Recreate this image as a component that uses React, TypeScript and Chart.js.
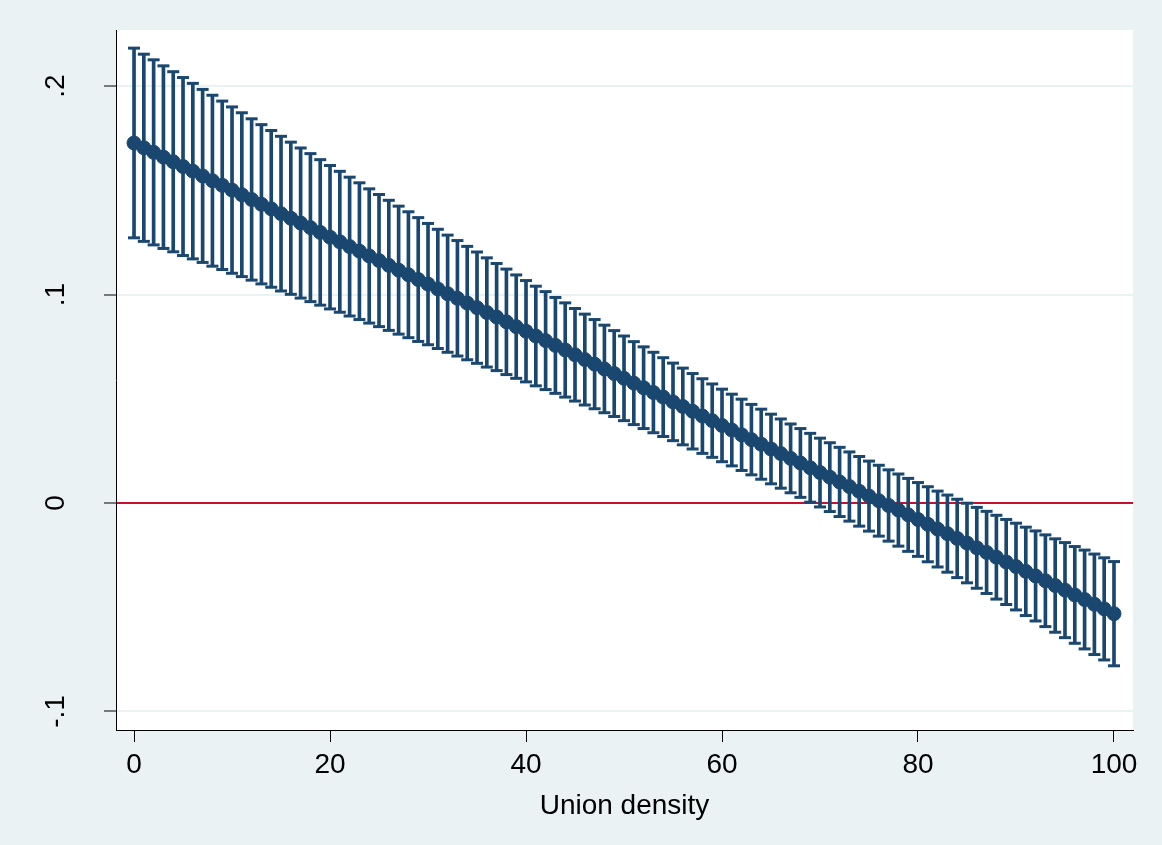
import { useEffect, useRef } from "react";
import { Chart, registerables } from "chart.js";

Chart.register(...registerables);

// Union density values at which the marginal effect is evaluated
const UNION_DENSITY = [
  0, 1, 2, 3, 4, 5, 6, 7, 8, 9,
  10, 11, 12, 13, 14, 15, 16, 17, 18, 19,
  20, 21, 22, 23, 24, 25, 26, 27, 28, 29,
  30, 31, 32, 33, 34, 35, 36, 37, 38, 39,
  40, 41, 42, 43, 44, 45, 46, 47, 48, 49,
  50, 51, 52, 53, 54, 55, 56, 57, 58, 59,
  60, 61, 62, 63, 64, 65, 66, 67, 68, 69,
  70, 71, 72, 73, 74, 75, 76, 77, 78, 79,
  80, 81, 82, 83, 84, 85, 86, 87, 88, 89,
  90, 91, 92, 93, 94, 95, 96, 97, 98, 99,
  100,
];

// Point estimates of the marginal effect
const EFFECT = [
  0.1727, 0.1704, 0.1682, 0.1659, 0.1637, 0.1614, 0.1592, 0.1569, 0.1546, 0.1524,
  0.1501, 0.1479, 0.1456, 0.1433, 0.1411, 0.1388, 0.1366, 0.1343, 0.1321, 0.1298,
  0.1275, 0.1253, 0.123, 0.1208, 0.1185, 0.1163, 0.114, 0.1117, 0.1095, 0.1072,
  0.105, 0.1027, 0.1004, 0.0982, 0.0959, 0.0937, 0.0914, 0.0892, 0.0869, 0.0846,
  0.0824, 0.0801, 0.0779, 0.0756, 0.0734, 0.0711, 0.0688, 0.0666, 0.0643, 0.0621,
  0.0598, 0.0575, 0.0553, 0.053, 0.0508, 0.0485, 0.0463, 0.044, 0.0417, 0.0395,
  0.0372, 0.035, 0.0327, 0.0304, 0.0282, 0.0259, 0.0237, 0.0214, 0.0192, 0.0169,
  0.0146, 0.0124, 0.0101, 0.0079, 0.0056, 0.0033, 0.0011, -0.0012, -0.0034, -0.0057,
  -0.0079, -0.0102, -0.0125, -0.0147, -0.017, -0.0192, -0.0215, -0.0237, -0.026, -0.0283,
  -0.0305, -0.0328, -0.035, -0.0373, -0.0396, -0.0418, -0.0441, -0.0463, -0.0486, -0.0508,
  -0.0531,
];

// Lower bound of the confidence interval
const CI_LOWER = [
  0.1272, 0.1255, 0.1238, 0.1221, 0.1205, 0.1187, 0.1171, 0.1154, 0.1136, 0.112,
  0.1102, 0.1086, 0.1069, 0.1051, 0.1035, 0.1017, 0.1001, 0.0983, 0.0966, 0.0949,
  0.0931, 0.0915, 0.0897, 0.088, 0.0863, 0.0846, 0.0828, 0.081, 0.0793, 0.0775,
  0.0759, 0.0741, 0.0723, 0.0705, 0.0687, 0.067, 0.0652, 0.0635, 0.0616, 0.0598,
  0.0581, 0.0562, 0.0544, 0.0526, 0.0508, 0.0489, 0.047, 0.0452, 0.0433, 0.0415,
  0.0395, 0.0376, 0.0357, 0.0337, 0.0319, 0.0299, 0.0279, 0.0259, 0.0238, 0.0219,
  0.0198, 0.0178, 0.0156, 0.0135, 0.0114, 0.0092, 0.0071, 0.0049, 0.0027, 0.0004,
  -0.0019, -0.0041, -0.0065, -0.0087, -0.0111, -0.0135, -0.0159, -0.0183, -0.0207, -0.0232,
  -0.0256, -0.0282, -0.0307, -0.0332, -0.0358, -0.0383, -0.0409, -0.0434, -0.0461, -0.0487,
  -0.0513, -0.054, -0.0566, -0.0593, -0.062, -0.0646, -0.0673, -0.07, -0.0727, -0.0753,
  -0.0781,
];

// Upper bound of the confidence interval
const CI_UPPER = [
  0.2182, 0.2153, 0.2126, 0.2097, 0.2069, 0.2041, 0.2013, 0.1984, 0.1956, 0.1928,
  0.19, 0.1872, 0.1843, 0.1815, 0.1787, 0.1759, 0.1731, 0.1703, 0.1676, 0.1647,
  0.1619, 0.1591, 0.1563, 0.1536, 0.1507, 0.148, 0.1452, 0.1424, 0.1397, 0.1369,
  0.1341, 0.1313, 0.1285, 0.1259, 0.1231, 0.1204, 0.1176, 0.1149, 0.1122, 0.1094,
  0.1067, 0.104, 0.1014, 0.0986, 0.096, 0.0933, 0.0906, 0.088, 0.0853, 0.0827,
  0.0801, 0.0774, 0.0749, 0.0723, 0.0697, 0.0671, 0.0647, 0.0621, 0.0596, 0.0571,
  0.0546, 0.0522, 0.0498, 0.0473, 0.045, 0.0426, 0.0403, 0.0379, 0.0357, 0.0334,
  0.0311, 0.0289, 0.0267, 0.0245, 0.0223, 0.0201, 0.0181, 0.0159, 0.0139, 0.0118,
  0.0098, 0.0078, 0.0057, 0.0038, 0.0018, -0.0001, -0.0021, -0.004, -0.0059, -0.0079,
  -0.0097, -0.0116, -0.0134, -0.0153, -0.0172, -0.019, -0.0209, -0.0226, -0.0245, -0.0263,
  -0.0281,
];

const X_TICKS = [0, 20, 40, 60, 80, 100];
const Y_TICKS = [-0.1, 0, 0.1, 0.2];
const Y_TICK_LABELS = ["-.1", "0", ".1", ".2"];
const X_TITLE = "Union density";

const NAVY = "#1a476f";
const ZERO_RED = "#c8102e";
const GRID = "#eaf2f3";
const PAGE_BG = "#eaf2f3";
const FONT = "'Liberation Sans', Arial, Helvetica, sans-serif";

// Fills the plot region white on top of the tinted canvas background
const plotRegionFill = {
  id: "plotRegionFill",
  beforeDraw(chart: any) {
    const { ctx, chartArea, width, height } = chart;
    ctx.save();
    ctx.fillStyle = PAGE_BG;
    ctx.fillRect(0, 0, width, height);
    ctx.fillStyle = "#ffffff";
    ctx.fillRect(
      chartArea.left,
      chartArea.top,
      chartArea.right - chartArea.left,
      chartArea.bottom - chartArea.top
    );
    ctx.restore();
  },
};

export default function App() {
  const canvasRef = useRef<HTMLCanvasElement | null>(null);

  useEffect(() => {
    const canvas = canvasRef.current;
    if (!canvas) return;

    const intervals = UNION_DENSITY.map((x, i) => ({ x, y: [CI_LOWER[i], CI_UPPER[i]] }));
    const lowerCaps = UNION_DENSITY.map((x, i) => ({ x, y: CI_LOWER[i] }));
    const upperCaps = UNION_DENSITY.map((x, i) => ({ x, y: CI_UPPER[i] }));
    const estimates = UNION_DENSITY.map((x, i) => ({ x, y: EFFECT[i] }));

    const chart = new Chart(canvas, {
      type: "bar",
      data: {
        datasets: [
          {
            type: "bar",
            data: intervals as any,
            backgroundColor: NAVY,
            borderWidth: 0,
            barThickness: 3,
            grouped: false,
            order: 3,
          } as any,
          {
            type: "scatter",
            data: lowerCaps,
            pointStyle: "line",
            pointRadius: 6,
            borderWidth: 3,
            borderColor: NAVY,
            order: 2,
          } as any,
          {
            type: "scatter",
            data: upperCaps,
            pointStyle: "line",
            pointRadius: 6,
            borderWidth: 3,
            borderColor: NAVY,
            order: 2,
          } as any,
          {
            type: "scatter",
            data: estimates,
            pointStyle: "circle",
            pointRadius: 7,
            borderWidth: 1,
            backgroundColor: NAVY,
            borderColor: NAVY,
            order: 1,
          } as any,
        ],
      },
      options: {
        responsive: false,
        animation: false,
        events: [],
        layout: { padding: { top: 30, right: 29, left: 0, bottom: 0 } },
        plugins: {
          legend: { display: false },
          tooltip: { enabled: false },
        },
        scales: {
          x: {
            type: "linear",
            offset: false,
            min: -1.84,
            max: 101.94,
            afterBuildTicks: (scale: any) => {
              scale.ticks = X_TICKS.map((v) => ({ value: v }));
            },
            afterFit: (scale: any) => {
              scale.height = 115;
              scale.paddingLeft = 0;
              scale.paddingRight = 0;
            },
            grid: {
              offset: false,
              drawOnChartArea: false,
              drawTicks: true,
              tickLength: 12,
              tickWidth: 1,
              tickColor: "#000",
            },
            border: { display: true, color: "#000", width: 1 },
            ticks: {
              color: "#000",
              font: { family: FONT, size: 28 },
              padding: 6,
              maxRotation: 0,
              minRotation: 0,
              callback: (v: any) => String(v),
            },
            title: {
              display: true,
              text: X_TITLE,
              color: "#000",
              font: { family: FONT, size: 28 },
              padding: { top: 0, bottom: 22 },
            },
          },
          y: {
            type: "linear",
            min: -0.1089,
            max: 0.2269,
            afterBuildTicks: (scale: any) => {
              scale.ticks = Y_TICKS.map((v) => ({ value: v }));
            },
            afterFit: (scale: any) => {
              scale.width = 116;
              scale.paddingTop = 0;
              scale.paddingBottom = 0;
            },
            grid: {
              drawOnChartArea: true,
              drawTicks: true,
              tickLength: 12,
              tickWidth: 1,
              tickColor: "#000",
              lineWidth: 2,
              color: (ctx: any) => (ctx.tick && ctx.tick.value === 0 ? ZERO_RED : GRID),
            },
            border: { display: true, color: "#000", width: 1 },
            ticks: {
              color: "#000",
              font: { family: FONT, size: 28 },
              padding: 31,
              minRotation: 90,
              maxRotation: 90,
              crossAlign: "center",
              callback: (v: any) => {
                const i = Y_TICKS.indexOf(v);
                return i >= 0 ? Y_TICK_LABELS[i] : "";
              },
            },
          },
        },
      },
      plugins: [plotRegionFill],
    });

    return () => chart.destroy();
  }, []);

  return (
    <div style={{ position: "fixed", left: 0, top: 0, width: 1162, height: 845, background: PAGE_BG }}>
      <canvas ref={canvasRef} width={1162} height={845} style={{ display: "block" }} />
    </div>
  );
}
